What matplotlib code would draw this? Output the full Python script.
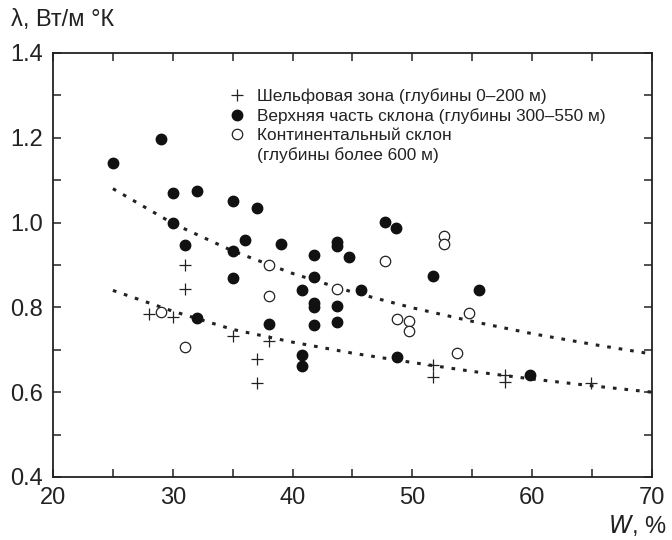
import matplotlib
matplotlib.use('Agg')
from matplotlib import pyplot as plt
from matplotlib.lines import Line2D
from matplotlib.ticker import MultipleLocator

plt.rcParams['font.family'] = ['Liberation Sans', 'DejaVu Sans']

# Шельфовая зона (+)
shelf_w = [28, 30, 31, 31, 35, 37, 37, 38, 51.7, 51.7, 57.7, 57.7, 64.9]
shelf_l = [0.785, 0.778, 0.90, 0.843, 0.733, 0.678, 0.622, 0.72, 0.663, 0.635, 0.64, 0.625, 0.621]

# Верхняя часть склона (заполненные кружки)
upper_w = [25, 29, 30, 32, 35, 37, 30, 31, 36, 35, 39, 35, 32, 38, 41.8, 43.7, 43.7,
           44.7, 47.7, 48.6, 41.8, 51.7, 40.8, 45.7, 55.6, 41.8, 41.8, 43.7, 41.8,
           43.7, 40.8, 40.8, 48.7, 59.8]
upper_l = [1.14, 1.196, 1.07, 1.075, 1.05, 1.035, 1.0, 0.947, 0.96, 0.934, 0.95, 0.87,
           0.776, 0.761, 0.924, 0.955, 0.945, 0.918, 1.002, 0.987, 0.871, 0.875, 0.84,
           0.84, 0.84, 0.81, 0.80, 0.803, 0.758, 0.765, 0.688, 0.662, 0.683, 0.64]

# Континентальный склон (пустые кружки)
slope_w = [38, 38, 29, 31, 52.6, 52.6, 47.7, 43.7, 48.7, 49.7, 49.7, 54.7, 53.7]
slope_l = [0.90, 0.827, 0.788, 0.707, 0.968, 0.949, 0.91, 0.843, 0.772, 0.768, 0.744, 0.786, 0.692]

# Линии тренда
trend_w = [25, 30, 35, 40, 45, 50, 55, 60, 65, 70]
trend_top = [1.08, 0.998, 0.933, 0.880, 0.836, 0.799, 0.767, 0.738, 0.713, 0.690]
trend_bottom = [0.84, 0.791, 0.748, 0.718, 0.692, 0.670, 0.649, 0.631, 0.615, 0.600]

fig = plt.figure(figsize=(6.72, 5.4), dpi=100)
ax = fig.add_axes([0.0789, 0.1167, 0.8913, 0.7852])

dot = (0, (1.2, 2.6))
ax.plot(trend_w, trend_top, color='#222222', linestyle=dot, linewidth=2.2, zorder=1)
ax.plot(trend_w, trend_bottom, color='#222222', linestyle=dot, linewidth=2.2, zorder=1)

ax.plot(shelf_w, shelf_l, linestyle='none', marker='+', markersize=8,
        markeredgewidth=0.9, color='#222222', zorder=3)
ax.plot(upper_w, upper_l, linestyle='none', marker='o', markersize=7.5,
        color='#111111', zorder=3)
ax.plot(slope_w, slope_l, linestyle='none', marker='o', markersize=7.5,
        markerfacecolor='white', markeredgecolor='#222222', markeredgewidth=0.9, zorder=3)

ax.set_xlim(20, 70)
ax.set_ylim(0.4, 1.4)
ax.xaxis.set_major_locator(MultipleLocator(10))
ax.xaxis.set_minor_locator(MultipleLocator(5))
ax.yaxis.set_major_locator(MultipleLocator(0.2))
ax.yaxis.set_minor_locator(MultipleLocator(0.1))
ax.tick_params(which='both', direction='in', top=True, right=True, length=6,
               width=1.1, color='#222222', labelsize=17, labelcolor='#222222')
ax.tick_params(axis='x', pad=7)
ax.tick_params(axis='y', pad=7)
ax.yaxis.set_major_formatter(plt.FuncFormatter(lambda v, p: f'{v:.1f}'))
for s in ax.spines.values():
    s.set_linewidth(1.3)
    s.set_color('#222222')

handles = [
    Line2D([], [], linestyle='none', marker='+', markersize=8, markeredgewidth=0.9, color='#222222'),
    Line2D([], [], linestyle='none', marker='o', markersize=7.5, color='#111111'),
    Line2D([], [], linestyle='none', marker='o', markersize=7.5, markerfacecolor='white',
           markeredgecolor='#222222', markeredgewidth=0.9),
    Line2D([], [], linestyle='none'),
]
labels = ['Шельфовая зона (глубины 0–200 м)',
          'Верхняя часть склона (глубины 300–550 м)',
          'Континентальный склон',
          '(глубины более 600 м)']
leg = ax.legend(handles, labels, loc='upper left', bbox_to_anchor=(0.294, 0.918),
                frameon=False, fontsize=12.4, labelspacing=0.25, handlelength=0.9,
                handletextpad=0.7, borderpad=0, borderaxespad=0)
for t in leg.get_texts():
    t.set_color('#222222')

fig.text(0.017, 0.963, 'λ, Вт/м °К', fontsize=17, color='#222222', va='center')
fig.text(0.992, 0.026, r'$\it{W}$, %', fontsize=17, color='#222222', ha='right', va='center')

plt.savefig('out.png', dpi=100)
